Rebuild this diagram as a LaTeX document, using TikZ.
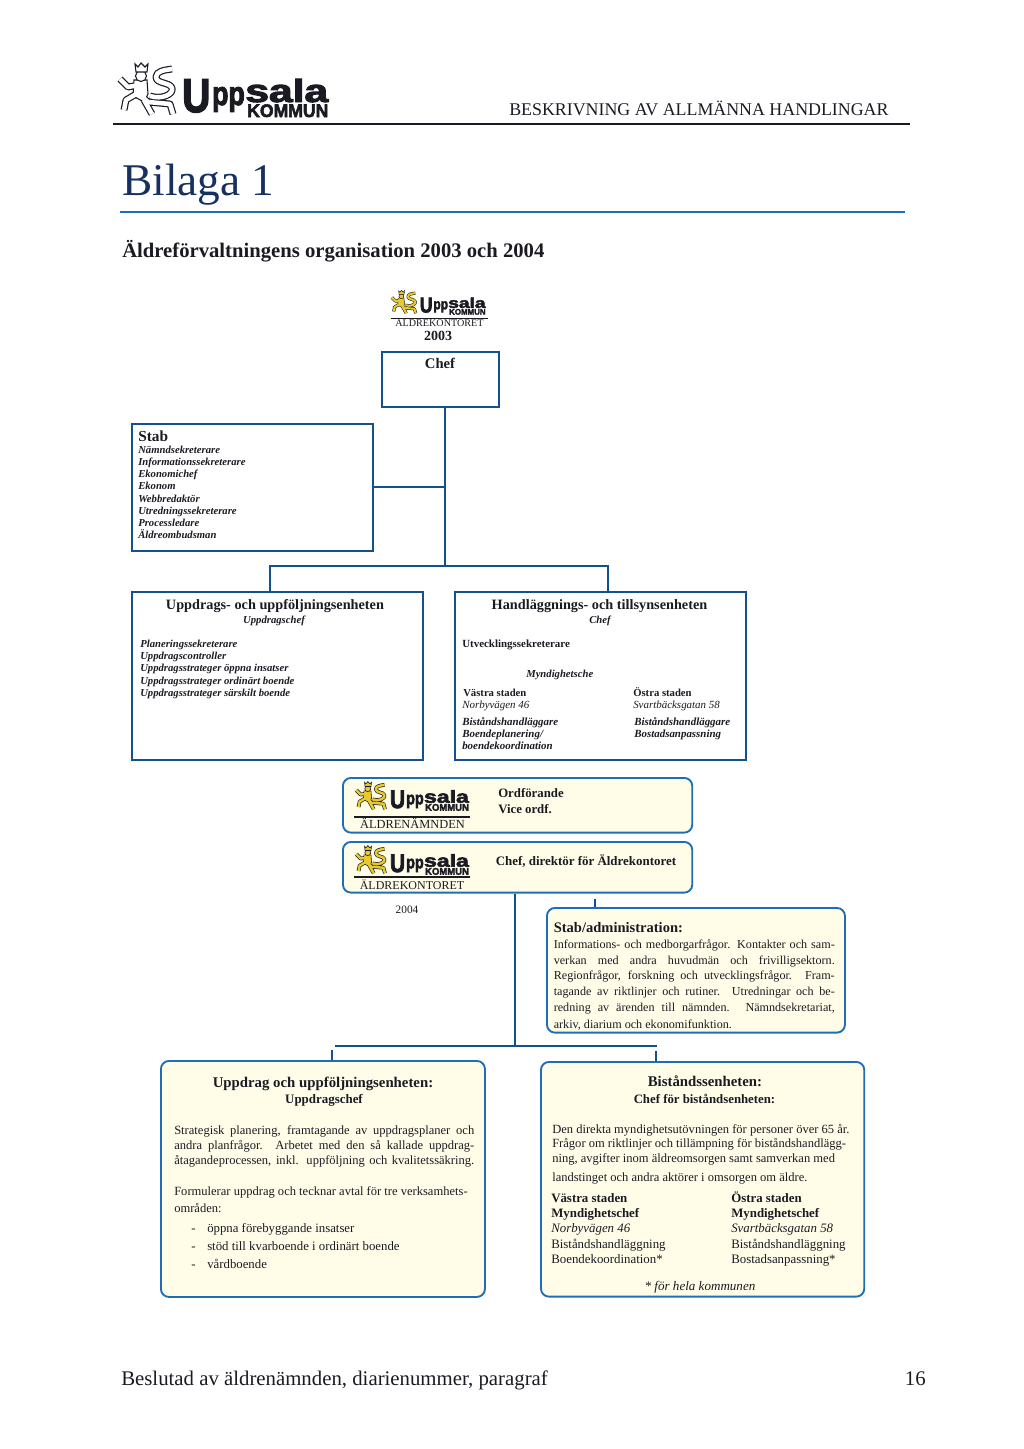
\documentclass[tikz,border=0pt]{standalone}
\usepackage{fontspec}
\setmainfont{Liberation Serif}
\newfontfamily\logofont[BoldFeatures={FakeBold=3}]{Liberation Sans}
\usepackage{xcolor}
\definecolor{UKNavy}{HTML}{16315F}
\definecolor{UKBlue}{HTML}{1F6DB4}
\definecolor{UKDeep}{HTML}{12508F}
\definecolor{UKCream}{HTML}{FFFDE8}
\definecolor{UKGold}{HTML}{E8C92F}
\definecolor{UKInk}{HTML}{1A1A22}
\newcommand{\fs}[2]{\fontsize{#1pt}{#2pt}\selectfont}
\newcommand{\fullline}[2]{\makebox[#1][s]{#2}}
\newcommand{\lionpath}{
  (40,36) .. controls (52,40) and (64,34) .. (62,28) .. controls (60,22) and (46,24) .. (46,17)
     .. controls (46,11) and (55,10) .. (62,9)
  (31,15) -- (28,33) -- (38,42) -- (60,44) -- (63,54)
  (29,25) -- (18,27) -- (10,19)
  (28,33) -- (16,40) -- (14,50)
  (34,40) -- (42,54)
}
\tikzset{
  pics/logo/.style 2 args={code={
    \begin{scope}[scale=#2, transform shape]
      \draw[UKInk, line width=#2*5.2pt, line join=round] \lionpath;
      \filldraw[fill=#1, draw=UKInk, line width=#2*0.8pt]
        (24,20) -- (37,20) -- (38,34) -- (34,42) -- (23,36) -- cycle;
      \draw[#1, line width=#2*3.4pt, line join=round] \lionpath;
      \filldraw[fill=#1, draw=UKInk, line width=#2*0.8pt] (31,16) circle (5.5);
      \filldraw[fill=#1, draw=UKInk, line width=#2*0.8pt]
        (25,4) -- (28,7) -- (31,3) -- (35,7) -- (38,4) -- (37,12) -- (26,12) -- cycle;
      \node[logotxt, xscale=0.82, font=\logofont\bfseries\fs{35.6}{36}] (u) at (72,52) {U};
      \node[logotxt, xscale=0.8, font=\logofont\bfseries\fs{25}{26}] (pp) at (102,45) {pp};
      \node[logotxt, xscale=1.33, font=\logofont\bfseries\fs{24}{25}] (sala) at (135,42) {sala};
      \node[logotxt, xscale=0.97, font=\logofont\bfseries\fs{13.6}{15}] (kommun) at (137,57) {KOMMUN};
    \end{scope}
  }}
}
\begin{document}
\begin{tikzpicture}[x=0.75pt, y=-0.75pt,
    plainbox/.style={draw=UKDeep, line width=1.4pt, anchor=north west, inner sep=0pt},
    softbox/.style={draw=UKBlue, fill=UKCream, line width=1.4pt, rounded corners=6pt, anchor=north west, inner sep=0pt},
    link/.style={draw=UKDeep, line width=1.3pt},
    txt/.style={anchor=north west, inner sep=0pt, align=left, text=UKInk},
    logotxt/.style={anchor=base west, inner sep=0pt, text=UKInk}]
  \useasboundingbox (0,0) rectangle (1024,1449);

  \pic (logotop) at (110,60) {logo={white}{1}};
  \node[txt, anchor=base west, font=\fs{13.4}{15}] (head) at (509,115) {BESKRIVNING AV ALLMÄNNA HANDLINGAR};
  \coordinate (rulea) at (113,124);
  \coordinate (ruleb) at (910,124);
  \draw[line width=1.2pt, UKInk] (rulea) -- (ruleb);
  \node[txt, anchor=base west, text=UKNavy, font=\fs{34}{38}] (title) at (122,195) {Bilaga 1};
  \coordinate (rulec) at (120,212);
  \coordinate (ruled) at (905,212);
  \draw[line width=1.2pt, UKBlue] (rulec) -- (ruled);
  \node[txt, anchor=base west, font=\bfseries\fs{15.5}{18}] (sub) at (122,257) {Äldreförvaltningens organisation 2003 och 2004};

  \pic (logoa) at (387.4,289) {logo={UKGold}{0.45}};
  \coordinate (rulee) at (391,318);
  \coordinate (rulef) at (488,318);
  \draw[line width=0.7pt, UKInk] (rulee) -- (rulef);
  \node[txt, anchor=base, font=\fs{7.6}{9}] (aldrea) at (439.5,326.5) {ÄLDREKONTORET};
  \node[txt, anchor=base, font=\bfseries\fs{10.5}{12}] (yeara) at (438,340) {2003};

  \node[plainbox, minimum width=87.5pt, minimum height=41pt] (chef) at (381,351) {};
  \node[txt, anchor=base, font=\bfseries\fs{11}{13}] (cheft) at (440,368) {Chef};

  \node[plainbox, minimum width=180.5pt, minimum height=95pt] (stab) at (131,423) {};
  \node[txt, anchor=base west, font=\bfseries\fs{11.5}{13}] (stabt) at (138,441) {Stab};
  \node[txt, font=\bfseries\itshape\fs{8}{9.15}] (stabl) at (138,444.5) {\strut Nämndsekreterare\\
    Informationssekreterare\\Ekonomichef\\Ekonom\\Webbredaktör\\Utredningssekreterare\\
    Processledare\\Äldreombudsman};

  \node[plainbox, minimum width=218pt, minimum height=125.75pt] (upp) at (131,591) {};
  \node[txt, anchor=base, font=\bfseries\fs{10.7}{13}] (uppt) at (275,609) {Uppdrags- och uppföljningsenheten};
  \node[txt, anchor=base, font=\bfseries\itshape\fs{8}{9}] (uppc) at (274,623) {Uppdragschef};
  \node[txt, font=\bfseries\itshape\fs{8}{9.2}] (uppl) at (140,638.4) {\strut Planeringssekreterare\\Uppdragscontroller\\
    Uppdragsstrateger öppna insatser\\Uppdragsstrateger ordinärt boende\\Uppdragsstrateger särskilt boende};

  \node[plainbox, minimum width=218pt, minimum height=125.75pt] (han) at (454,591) {};
  \node[txt, anchor=base, font=\bfseries\fs{10.7}{13}] (hant) at (599.5,609) {Handläggnings- och tillsynsenheten};
  \node[txt, anchor=base, font=\bfseries\itshape\fs{8}{9}] (hanc) at (600,623) {Chef};
  \node[txt, anchor=base west, font=\bfseries\fs{8.2}{9}] (hanu) at (462,647) {Utvecklingssekreterare};
  \node[txt, anchor=base west, font=\bfseries\itshape\fs{8}{9}] (hanm) at (526,677) {Myndighetsche};
  \node[txt, anchor=base west, font=\bfseries\fs{8}{9}] (hanv) at (463,696) {Västra staden};
  \node[txt, anchor=base west, font=\itshape\fs{8.2}{9}] (hanva) at (462,708) {Norbyvägen 46};
  \node[txt, font=\bfseries\itshape\fs{8.2}{9}] (hanvl) at (462,716.6) {\strut Biståndshandläggare\\Boendeplanering/\\boendekoordination};
  \node[txt, anchor=base west, font=\bfseries\fs{8}{9}] (hano) at (633,696) {Östra staden};
  \node[txt, anchor=base west, font=\itshape\fs{8.2}{9}] (hanoa) at (633,708) {Svartbäcksgatan 58};
  \node[txt, font=\bfseries\itshape\fs{8.2}{9}] (hanol) at (634,716.6) {\strut Biståndshandläggare\\Bostadsanpassning};

  \coordinate (hub) at (445,566);
  \coordinate (hubl) at (270,566);
  \coordinate (hubr) at (608,566);
  \draw[link] (chef.south -| hub) -- (hub);
  \draw[link] (stab.east) -- (stab.east -| hub);
  \draw[link] (upp.north -| hubl) -- (hubl) -- (hubr) -- (han.north -| hubr);

  \node[softbox, minimum width=262pt, minimum height=41pt] (namnd) at (342,777) {};
  \pic (logob) at (351,780) {logo={UKGold}{0.54}};
  \coordinate (ruleg) at (354,817);
  \coordinate (ruleh) at (470,817);
  \draw[line width=1.1pt, UKInk] (ruleg) -- (ruleh);
  \node[txt, anchor=base, font=\fs{9.3}{11}] (aldreb) at (412.5,828.5) {ÄLDRENÄMNDEN};
  \node[txt, font=\bfseries\fs{9.6}{12}] (namndt) at (498,785.8) {\strut Ordförande\\Vice ordf.};

  \node[softbox, minimum width=262pt, minimum height=38pt] (kontor) at (342,841) {};
  \pic (logoc) at (351,844) {logo={UKGold}{0.54}};
  \coordinate (rulei) at (354,877);
  \coordinate (rulej) at (470,877);
  \draw[line width=0.8pt, UKInk] (rulei) -- (rulej);
  \node[txt, anchor=base, font=\fs{9}{11}] (aldrec) at (412,889) {ÄLDREKONTORET};
  \node[txt, anchor=base west, font=\bfseries\fs{9.7}{11}] (kontort) at (495.5,865) {Chef, direktör för Äldrekontoret};
  \node[txt, anchor=base, font=\fs{8.5}{10}] (yearb) at (407,913) {2004};

  \node[softbox, minimum width=223.5pt, minimum height=93.5pt] (adm) at (546,907) {};
  \node[txt, anchor=base west, font=\bfseries\fs{10.9}{12}] (admt) at (553.5,932) {Stab/administration:};
  \node[txt, font=\fs{9.1}{11.8}] (admx) at (553.5,937) {\strut\fullline{210.75pt}{Informations- och medborgarfrågor. Kontakter och sam-}\\
    \fullline{210.75pt}{verkan med andra huvudmän och frivilligsektorn.}\\
    \fullline{210.75pt}{Regionfrågor, forskning och utvecklingsfrågor. Fram-}\\
    \fullline{210.75pt}{tagande av riktlinjer och rutiner. Utredningar och be-}\\
    \fullline{210.75pt}{redning av ärenden till nämnden. Nämndsekretariat,}\\[1.5pt]
    arkiv, diarium och ekonomifunktion.};

  \node[softbox, minimum width=243pt, minimum height=177pt] (upd) at (160,1060) {};
  \node[txt, anchor=base, font=\bfseries\fs{11.1}{12}] (updt) at (323,1087) {Uppdrag och uppföljningsenheten:};
  \node[txt, anchor=base, font=\bfseries\fs{9.7}{11}] (updc) at (324,1103) {Uppdragschef};
  \node[txt, font=\fs{9.4}{11.2}] (updx) at (174,1123.5) {\strut\fullline{225pt}{Strategisk planering, framtagande av uppdragsplaner och}\\
    \fullline{225pt}{andra planfrågor. Arbetet med den så kallade uppdrag-}\\
    \fullline{225pt}{åtagandeprocessen, inkl. uppföljning och kvalitetssäkring.}};
  \node[txt, font=\fs{9.4}{12.8}] (updy) at (174,1183) {\strut Formulerar uppdrag och tecknar avtal för tre verksamhets-\\områden:};
  \node[txt, font=\fs{9.6}{13.5}] (updb) at (191,1219.4) {\strut\makebox[12pt][l]{-}öppna förebyggande insatser\\
    \makebox[12pt][l]{-}stöd till kvarboende i ordinärt boende\\\makebox[12pt][l]{-}vårdboende};

  \node[softbox, minimum width=242.5pt, minimum height=176pt] (bis) at (540,1061) {};
  \node[txt, anchor=base, font=\bfseries\fs{11.1}{12}] (bist) at (705,1086) {Biståndssenheten:};
  \node[txt, anchor=base, font=\bfseries\fs{9.6}{11}] (bisc) at (704.5,1103) {Chef för biståndsenheten:};
  \node[txt, font=\fs{9.4}{11}] (bisx) at (552,1122.7) {\strut Den direkta myndighetsutövningen för personer över 65 år.\\
    Frågor om riktlinjer och tillämpning för biståndshandlägg-\\ning, avgifter inom äldreomsorgen samt samverkan med\\[3pt]
    landstinget och andra aktörer i omsorgen om äldre.};
  \node[txt, font=\fs{9.65}{11.5}] (bisv) at (551,1191.3) {\strut\textbf{Västra staden}\\\textbf{Myndighetschef}\\\textit{Norbyvägen 46}\\Biståndshandläggning\\Boendekoordination*};
  \node[txt, font=\fs{9.65}{11.5}] (biso) at (731,1191.3) {\strut\textbf{Östra staden}\\\textbf{Myndighetschef}\\\textit{Svartbäcksgatan 58}\\Biståndshandläggning\\Bostadsanpassning*};
  \node[txt, anchor=base, font=\itshape\fs{9.8}{11}] (bisf) at (700,1290) {* för hela kommunen};

  \coordinate (fork) at (515,1046);
  \coordinate (forkl) at (335,1046);
  \coordinate (forkr) at (657,1046);
  \coordinate (ticka) at (595,899);
  \coordinate (tickb) at (332,1050);
  \coordinate (tickc) at (656,1051);
  \draw[link] (kontor.south -| fork) -- (fork);
  \draw[link] (forkl) -- (forkr);
  \draw[link] (ticka) -- (adm.north -| ticka);
  \draw[link] (tickb) -- (upd.north -| tickb);
  \draw[link] (tickc) -- (bis.north -| tickc);

  \node[txt, anchor=base west, font=\fs{15.6}{18}] (foot) at (121,1385) {Beslutad av äldrenämnden, diarienummer, paragraf};
  \node[txt, anchor=base east, font=\fs{15.6}{18}] (page) at (926,1385) {16};
\end{tikzpicture}
\end{document}
